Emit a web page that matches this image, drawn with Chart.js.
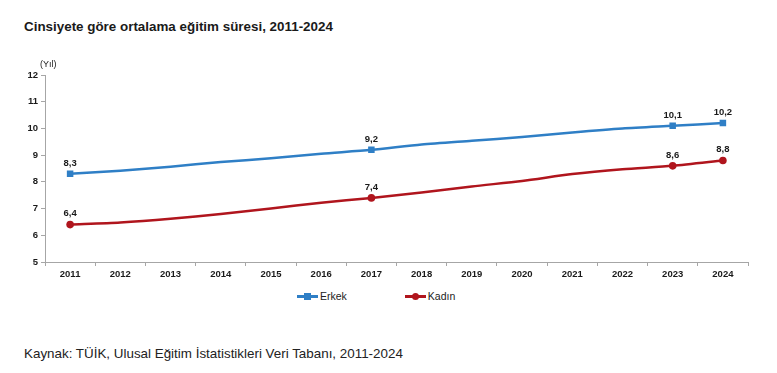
<!DOCTYPE html>
<html lang="tr">
<head>
<meta charset="utf-8">
<script src="https://cdn.jsdelivr.net/npm/chart.js@4.4.1/dist/chart.umd.min.js"></script>
<style>
  body {
    margin: 0;
    width: 777px;
    height: 373px;
    background: #fff;
    position: relative;
    overflow: hidden;
    font-family: Arial, 'Liberation Sans', sans-serif;
  }
  #titulo {
    position: absolute;
    left: 24px;
    top: 19px;
    font-size: 13.4px;
    line-height: 15px;
    font-weight: bold;
    color: #1a1a1a;
  }
  #fonte {
    position: absolute;
    left: 24px;
    top: 346px;
    font-size: 13.4px;
    line-height: 15px;
    color: #222;
  }
  .chart {
    position: absolute;
    left: 0;
    top: 40px;
    width: 777px;
    height: 245px;
  }
  #legenda {
    position: absolute;
    left: 297px;
    top: 290px;
    display: flex;
    gap: 58px;
    font-size: 10.5px;
    line-height: 12px;
    color: #222;
  }
  .item { display: flex; align-items: center; gap: 2px; }
  .marca { position: relative; width: 21px; height: 3px; }
  .marca span {
    position: absolute;
    left: 7px;
    top: -2px;
    width: 7px;
    height: 7px;
  }
</style>
</head>
<body>
<div id="titulo">Cinsiyete göre ortalama eğitim süresi, 2011-2024</div>
<div class="chart"><canvas id="grafico"></canvas></div>
<div id="legenda"></div>
<div id="fonte">Kaynak: TÜİK, Ulusal Eğitim İstatistikleri Veri Tabanı, 2011-2024</div>

<script>
const anos = ['2011', '2012', '2013', '2014', '2015', '2016', '2017',
  '2018', '2019', '2020', '2021', '2022', '2023', '2024'];
const erkek = [8.3, 8.42, 8.57, 8.74, 8.88, 9.05, 9.2, 9.4, 9.54, 9.68, 9.85, 10.0, 10.1, 10.2];
const kadin = [6.4, 6.48, 6.62, 6.8, 7.0, 7.22, 7.4, 7.6, 7.83, 8.03, 8.29, 8.47, 8.6, 8.8];
const indicesRotulo = [0, 6, 12, 13];

const corErkek = '#2f7fc6';
const corKadin = '#b0151d';
const fonte = 'Arial, "Liberation Sans", sans-serif';

function formata(valor) {
  return valor.toFixed(1).replace('.', ',');
}

function raioPonto(raio) {
  return (ctx) => (indicesRotulo.includes(ctx.dataIndex) ? raio : 0);
}

const rotulosPlugin = {
  id: 'rotulos',
  afterDatasetsDraw(chart) {
    const ctx = chart.ctx;
    ctx.save();
    ctx.font = 'bold 9.5px ' + fonte;
    ctx.fillStyle = '#1a1a1a';
    ctx.textAlign = 'center';
    ctx.textBaseline = 'bottom';
    chart.data.datasets.forEach((ds, i) => {
      const meta = chart.getDatasetMeta(i);
      indicesRotulo.forEach((idx) => {
        const p = meta.data[idx];
        ctx.fillText(formata(ds.data[idx]), p.x, p.y - 6);
      });
    });
    // unidade do eixo
    ctx.font = '9px ' + fonte;
    ctx.textAlign = 'left';
    ctx.textBaseline = 'middle';
    ctx.fillText('(Yıl)', chart.chartArea.left - 5, chart.chartArea.top - 10);
    ctx.restore();
  },
};

const dados = {
  labels: anos,
  datasets: [
    {
      label: 'Erkek',
      data: erkek,
      borderColor: corErkek,
      backgroundColor: corErkek,
      borderWidth: 2.5,
      pointStyle: 'rect',
      pointRadius: raioPonto(4.6),
      pointBorderWidth: 0,
      tension: 0.25,
    },
    {
      label: 'Kadın',
      data: kadin,
      borderColor: corKadin,
      backgroundColor: corKadin,
      borderWidth: 2.5,
      pointStyle: 'circle',
      pointRadius: raioPonto(3.8),
      pointBorderWidth: 0,
      tension: 0.25,
    },
  ],
};

const eixoCor = '#a6a6a6';

const opcoes = {
  responsive: true,
  maintainAspectRatio: false,
  animation: false,
  layout: { padding: { top: 35, right: 29, left: 0, bottom: 0 } },
  plugins: {
    legend: { display: false },
    tooltip: { enabled: false },
  },
  scales: {
    x: {
      offset: true,
      grid: {
        offset: true,
        drawOnChartArea: false,
        tickLength: 4,
        color: eixoCor,
      },
      border: { color: eixoCor },
      ticks: {
        color: '#1a1a1a',
        font: { family: fonte, size: 9.5, weight: 'bold' },
        maxRotation: 0,
        autoSkip: false,
        padding: 3,
      },
      afterFit(scale) {
        scale.height = 23;
      },
    },
    y: {
      min: 5,
      max: 12,
      grid: {
        drawOnChartArea: false,
        tickLength: 4,
        color: eixoCor,
      },
      border: { color: eixoCor },
      ticks: {
        stepSize: 1,
        color: '#1a1a1a',
        font: { family: fonte, size: 9.5, weight: 'bold' },
        padding: 3,
      },
      afterFit(scale) {
        scale.width = 45;
      },
    },
  },
};

const grafico = new Chart(document.getElementById('grafico'), {
  type: 'line',
  data: dados,
  options: opcoes,
  plugins: [rotulosPlugin],
});

function montaLegenda(chart) {
  const legenda = document.getElementById('legenda');
  chart.data.datasets.forEach((ds) => {
    const item = document.createElement('div');
    item.className = 'item';
    const marca = document.createElement('div');
    marca.className = 'marca';
    marca.style.background = ds.borderColor;
    const ponto = document.createElement('span');
    ponto.style.background = ds.borderColor;
    if (ds.pointStyle === 'circle') ponto.style.borderRadius = '50%';
    marca.appendChild(ponto);
    const texto = document.createElement('span');
    texto.textContent = ds.label;
    item.appendChild(marca);
    item.appendChild(texto);
    legenda.appendChild(item);
  });
}

montaLegenda(grafico);
</script>
</body>
</html>
